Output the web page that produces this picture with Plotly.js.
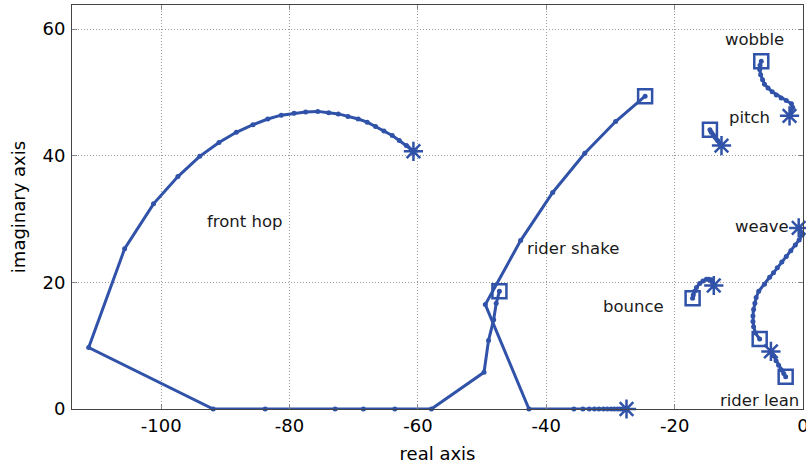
<!DOCTYPE html>
<html>
<head>
<meta charset="utf-8">
<script src="https://cdn.plot.ly/plotly-3.0.1.min.js"></script>
<style>html,body{margin:0;padding:0;background:#fff;}#chart{width:806px;height:468px;}</style>
</head>
<body>
<div id="chart"></div>
<script>
// Branch data (start = asterisk, end = square)
var frontHopX = [-60.7, -61.8, -62.9, -64.0, -65.3, -66.6, -67.9, -69.3, -70.9, -72.4, -73.9, -75.6, -77.5, -79.3, -81.3, -83.4, -85.7, -88.3, -91.0, -94.0, -97.4, -101.2, -105.7, -111.3, -91.9, -83.8, -72.9, -68.5, -63.6, -57.9, -49.7, -49.0, -48.2, -47.8, -47.3];
var frontHopY = [40.7, 41.6, 42.4, 43.2, 43.9, 44.6, 45.3, 45.8, 46.2, 46.6, 46.8, 47.0, 46.9, 46.7, 46.4, 45.8, 44.9, 43.7, 42.1, 39.9, 36.7, 32.4, 25.3, 9.7, 0, 0, 0, 0, 0, 0, 5.8, 10.8, 14.1, 16.7, 18.6];

var riderShakeX = [-27.5, -27.8, -28.1, -28.5, -28.9, -29.4, -29.9, -30.5, -31.1, -31.8, -32.5, -33.3, -34.3, -35.7, -42.7, -49.5, -44.0, -39.0, -34.0, -29.2, -24.6];
var riderShakeY = [0, 0, 0, 0, 0, 0, 0, 0, 0, 0, 0, 0, 0, 0, 0, 16.5, 26.6, 34.2, 40.4, 45.4, 49.4];

var wobbleX = [-2.1, -1.6, -1.8, -2.6, -3.4, -4.15, -4.8, -5.45, -6.0, -6.3, -6.6, -6.75, -6.7, -6.5];
var wobbleY = [46.3, 47.6, 48.2, 48.7, 49.1, 49.6, 50.1, 50.7, 51.3, 52.0, 52.8, 53.6, 54.3, 54.9];

var pitchX = [-12.7, -13.0, -13.3, -13.7, -14.0, -14.3, -14.5];
var pitchY = [41.6, 42.0, 42.4, 42.9, 43.3, 43.7, 44.1];

var bounceX = [-13.9, -14.3, -14.7, -15.05, -15.6, -16.1, -16.6, -16.9, -17.1, -17.2];
var bounceY = [19.5, 20.4, 20.5, 20.5, 20.2, 19.8, 19.2, 18.6, 18.0, 17.5];

var weaveX = [-0.67, -0.1, -0.6, -1.2, -1.9, -2.6, -3.3, -4.0, -4.6, -5.2, -6.0, -6.9, -7.3, -7.5, -7.7, -7.8, -7.8, -7.7, -7.4, -6.75];
var weaveY = [28.6, 27.5, 26.7, 25.9, 25.0, 24.1, 23.2, 22.3, 21.5, 20.8, 19.7, 18.6, 17.6, 16.7, 15.7, 14.7, 13.8, 13.0, 12.0, 11.05];

var riderLeanX = [-5.0, -4.6, -4.2, -3.8, -3.4, -3.0, -2.7];
var riderLeanY = [9.1, 8.4, 7.6, 6.9, 6.2, 5.6, 5.1];

// Labels
var labelText = ["front hop", "rider shake", "wobble", "pitch", "bounce", "weave", "rider lean"];
var labelX = [-87.0, -35.8, -7.6, -8.35, -26.4, -6.4, -6.75];
var labelY = [29.6, 25.3, 58.4, 46.1, 16.2, 28.8, 1.3];

// Ticks
var xTickVals = [-100, -80, -60, -40, -20, 0];
var xTickText = ["-100", "-80", "-60", "-40", "-20", "0"];
var yTickVals = [0, 20, 40, 60];
var yTickText = ["0", "20", "40", "60"];

var COLOR = "rgb(48,82,168)";
var branches = [
  [frontHopX, frontHopY], [riderShakeX, riderShakeY], [wobbleX, wobbleY],
  [pitchX, pitchY], [bounceX, bounceY], [weaveX, weaveY], [riderLeanX, riderLeanY]
];
var traces = [];
branches.forEach(function (b) {
  traces.push({
    x: b[0], y: b[1], type: "scatter", mode: "lines+markers",
    line: {color: COLOR, width: 3},
    marker: {color: COLOR, size: 5, symbol: "circle"},
    cliponaxis: false,
    hoverinfo: "x+y", showlegend: false
  });
});
traces.push({
  x: branches.map(function (b) { return b[0][0]; }),
  y: branches.map(function (b) { return b[1][0]; }),
  type: "scatter", mode: "markers", cliponaxis: false,
  marker: {symbol: "asterisk-open", size: 16, color: COLOR, line: {color: COLOR, width: 2.5}},
  showlegend: false
});
traces.push({
  x: branches.map(function (b) { return b[0][b[0].length - 1]; }),
  y: branches.map(function (b) { return b[1][b[1].length - 1]; }),
  type: "scatter", mode: "markers", cliponaxis: false,
  marker: {symbol: "square-open", size: 14, color: COLOR, line: {color: COLOR, width: 2.5}},
  showlegend: false
});

var annotations = labelText.map(function (t, i) {
  return {x: labelX[i], y: labelY[i], text: t, showarrow: false,
          xanchor: "center", yanchor: "middle",
          font: {family: "DejaVu Sans", size: 16.5, color: "#1a1a1a"}};
});

var axisCommon = {
  showline: true, linecolor: "#444", linewidth: 1, mirror: "ticks",
  ticks: "inside", ticklen: 5, tickcolor: "#888", tickwidth: 1,
  showgrid: true, gridcolor: "#999", gridwidth: 1, griddash: "1px,2px",
  zeroline: false, tickmode: "array", ticklabeloverflow: "allow",
  tickfont: {family: "DejaVu Sans", size: 18, color: "#000"}
};

var layout = {
  width: 806, height: 468,
  margin: {l: 72, r: 3, t: 5, b: 59},
  paper_bgcolor: "#fff", plot_bgcolor: "#fff",
  font: {family: "DejaVu Sans", color: "#000"},
  xaxis: Object.assign({}, axisCommon, {
    range: [-113.9, 0], tickvals: xTickVals, ticktext: xTickText,
    ticklabelstandoff: 0,
    title: {text: "real axis", font: {family: "DejaVu Sans", size: 18, color: "#000"}, standoff: 12}
  }),
  yaxis: Object.assign({}, axisCommon, {
    range: [0, 63.8], tickvals: yTickVals, ticktext: yTickText,
    ticklabelstandoff: 2,
    title: {text: "imaginary axis", font: {family: "DejaVu Sans", size: 18, color: "#000"}, standoff: 12}
  }),
  annotations: annotations,
  showlegend: false
};

Plotly.newPlot("chart", traces, layout, {displayModeBar: false, staticPlot: true});
</script>
</body>
</html>
